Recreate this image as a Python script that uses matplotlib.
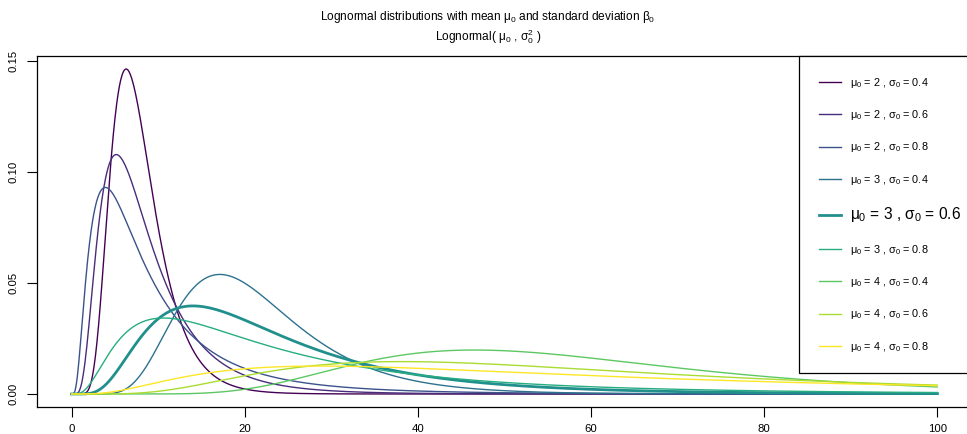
import numpy as np
import matplotlib
matplotlib.use("Agg")
import matplotlib.pyplot as plt

plt.rcParams['font.family'] = ['Liberation Sans', 'DejaVu Sans']
plt.rcParams['mathtext.fontset'] = 'custom'
plt.rcParams['mathtext.rm'] = 'Liberation Sans'
plt.rcParams['mathtext.it'] = 'Liberation Sans'
plt.rcParams['mathtext.bf'] = 'Liberation Sans:bold'

# parameters of the nine curves (meanlog, sdlog), as in the legend
mu0 = [2, 2, 2, 3, 3, 3, 4, 4, 4]
sigma0 = [0.4, 0.6, 0.8, 0.4, 0.6, 0.8, 0.4, 0.6, 0.8]
colors = ["#440154", "#472D7B", "#3B528B", "#2C728E", "#21908C",
          "#27AD81", "#5DC863", "#AADC32", "#FDE725"]
highlight = 4  # mu0 = 3, sigma0 = 0.6 drawn thicker

x_vals = np.linspace(0, 100, 2001)
x_ticks = [0, 20, 40, 60, 80, 100]
y_ticks = [0.00, 0.05, 0.10, 0.15]


def dlnorm(x, mu, sd):
    out = np.zeros_like(x)
    pos = x > 0
    out[pos] = np.exp(-(np.log(x[pos]) - mu) ** 2 / (2 * sd ** 2)) / (x[pos] * sd * np.sqrt(2 * np.pi))
    return out


W, H = 967, 434
fig = plt.figure(figsize=(W / 100, H / 100), dpi=100)
# plot region in pixels: left 37, right 972 (runs off the figure), top 56, bottom 407
ax = fig.add_axes([37 / W, 1 - 407 / H, (972 - 37) / W, (407 - 56) / H])

handles = []
for i, (m, s) in enumerate(zip(mu0, sigma0)):
    lw = 2.0 if i == highlight else 1.0
    h, = ax.plot(x_vals, dlnorm(x_vals, m, s), color=colors[i], lw=lw,
                 label=rf'$\mu_0$ = {m} , $\sigma_0$ = {s}')
    handles.append(h)

ymax = max(dlnorm(x_vals, m, s).max() for m, s in zip(mu0, sigma0))
ax.set_xlim(-4, 104)
ax.set_ylim(-0.04 * ymax, 1.04 * ymax)
ax.set_xticks(x_ticks)
ax.set_xticklabels([str(t) for t in x_ticks])
ax.set_yticks(y_ticks)
ax.set_yticklabels(['%.2f' % t for t in y_ticks], rotation=90, va='center')
ax.tick_params(axis='both', direction='out', length=7, width=0.8,
               labelsize=8.2, color='black')
ax.tick_params(axis='x', pad=5)
ax.tick_params(axis='y', pad=6)
for sp in ax.spines.values():
    sp.set_linewidth(0.9)

fig.text(488 / W, 1 - 17 / H,
         r'Lognormal distributions with mean $\mu_0$ and standard deviation $\beta_0$',
         ha='center', va='center', fontsize=8.6)
fig.text(488 / W, 1 - 37 / H, r'Lognormal( $\mu_0$ , $\sigma_0^2$ )',
         ha='center', va='center', fontsize=8.6)

leg = ax.legend(handles=handles, loc='upper left',
                bbox_to_anchor=((799 - 37) / (972 - 37), 1.0),
                fontsize=7.8, frameon=True, fancybox=False, borderaxespad=0,
                labelspacing=1.70, handlelength=2.1, handletextpad=0.8,
                borderpad=1.8, framealpha=1)
leg.get_frame().set_edgecolor('black')
leg.get_frame().set_linewidth(0.9)
texts = leg.get_texts()
texts[highlight].set_fontsize(11.2)

fig.savefig('out.png', dpi=100)
